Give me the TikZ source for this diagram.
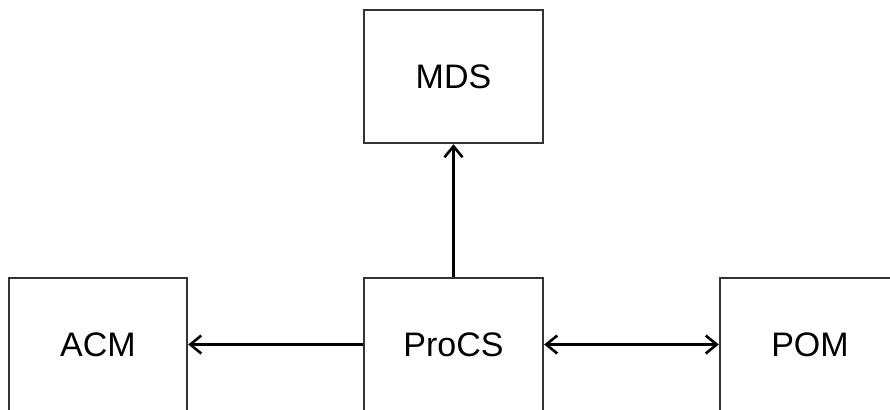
\documentclass[tikz,border=0pt]{standalone}
\usepackage{fontspec}
\setmainfont{Liberation Sans}
\usetikzlibrary{arrows.meta}

\begin{document}
\begin{tikzpicture}[x=0.5pt,y=-0.5pt]
    \tikzstyle{block}=[rectangle, draw=black!80, line width=1.2pt, minimum width=89.5pt, minimum height=66.5pt, font=\fontsize{17}{20}\selectfont, inner sep=0pt]
    \tikzstyle{link}=[line width=1.3pt, black, -{Straight Barb[length=5.5pt,width=9pt]}]
    \tikzstyle{biglink}=[line width=1.3pt, black, {Straight Barb[length=5.5pt,width=9pt]}-{Straight Barb[length=5.5pt,width=9pt]}]

    \useasboundingbox (0,0) rectangle (890,409);
    \clip (0,0) rectangle (890,409);

    % blocks
    \node[block] (mds) at (453.5,76.5) {MDS};
    \node[block] (procs) at (453.5,344.5) {ProCS};
    \node[block, minimum width=89pt] (acm) at (98,344.5) {ACM};
    % POM runs off the right edge
    \node[block, minimum width=115pt] (pom) at (835,344.5) {\hspace*{-25pt}POM};

    % connecting arrows
    \draw[link] (procs) -- (mds);
    \draw[link] (procs) -- (acm);
    \draw[biglink] (procs) -- (pom);

\end{tikzpicture}
\end{document}
